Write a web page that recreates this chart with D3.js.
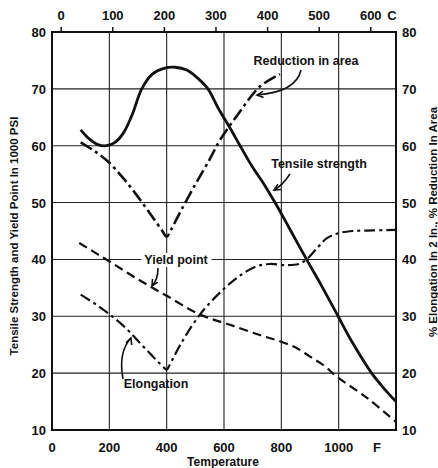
<!DOCTYPE html>
<html><head><meta charset="utf-8">
<script src="https://cdn.jsdelivr.net/npm/d3@7"></script>
<style>
body{margin:0;background:#fff;}
svg text{font-family:"Liberation Sans",Arial,sans-serif;font-weight:bold;fill:#111;}
</style></head><body>
<svg id="c" width="438" height="468"></svg>
<script>
// ---- data (temperature in F, value) ----
const tensileF   = [100,130,160,190,220,250,280,313,350,390,430,470,510,544,580,620,656,700,740,778,830,888,940,998,1050,1115,1160,1200];
const tensileV   = [62.8,61.2,60.2,60.0,60.6,62.3,65.5,70.0,72.6,73.6,73.8,73.3,71.8,70.0,66.6,63.2,60.0,56.2,53.2,50.0,45.3,40.0,35.4,30.0,25.2,20.0,17.2,15.0];
const reductionF = [100,150,200,250,300,350,385,400,415,450,500,550,586,650,725,795];
const reductionV = [60.6,59.0,57.0,54.2,51.0,47.5,45.0,44.0,45.2,48.6,53.2,57.6,61.0,65.6,70.4,72.6];
const yieldF     = [95,150,202,300,400,516,621,725,795,850,900,950,993,1100,1200];
const yieldV     = [42.9,41.2,39.6,36.5,33.6,30.3,28.5,26.7,25.6,24.5,22.9,21.3,19.4,15.6,11.4];
const elongF     = [100,150,202,260,307,360,390,400,410,450,516,597,660,714,760,818,860,888,925,958,998,1050,1120,1200];
const elongV     = [33.8,32.2,30.3,27.8,25.3,22.5,21.0,20.6,21.4,25.2,30.3,34.7,37.3,38.8,39.2,39.0,39.2,40.0,42.0,43.7,44.6,45.0,45.1,45.2];
const fTicks     = [0,200,400,600,800,1000];
const cTicks     = [0,100,200,300,400,500,600];
const yTicks     = [10,20,30,40,50,60,70,80];

const svg = d3.select("#c");
const x = d3.scaleLinear().domain([0,1200]).range([52,396]);
const y = d3.scaleLinear().domain([10,80]).range([430,32]);
const cToF = c => c*9/5+32;

// grid
const g = svg.append("g");
g.selectAll(".hg").data(yTicks.slice(1,-1)).join("line")
  .attr("x1",x(0)).attr("x2",x(1200)).attr("y1",d=>y(d)).attr("y2",d=>y(d))
  .attr("stroke","#222").attr("stroke-width",1.1);
g.selectAll(".vg").data(fTicks.slice(1)).join("line")
  .attr("x1",d=>x(d)).attr("x2",d=>x(d)).attr("y1",y(80)).attr("y2",y(10))
  .attr("stroke","#222").attr("stroke-width",1.1);

// frame
svg.append("rect").attr("x",x(0)).attr("y",y(80)).attr("width",x(1200)-x(0)).attr("height",y(10)-y(80))
  .attr("fill","none").attr("stroke","#111").attr("stroke-width",2);

// top C ticks
svg.selectAll(".ct").data(cTicks).join("line")
  .attr("x1",d=>x(cToF(d))).attr("x2",d=>x(cToF(d))).attr("y1",y(80)-5).attr("y2",y(80))
  .attr("stroke","#111").attr("stroke-width",1.5);
svg.selectAll(".cl").data(cTicks).join("text")
  .attr("x",d=>x(cToF(d))).attr("y",20).attr("text-anchor","middle").attr("font-size",13).text(d=>d);
svg.append("text").attr("x",392).attr("y",20).attr("text-anchor","middle").attr("font-size",13).text("C");

// bottom F labels
svg.selectAll(".fl").data(fTicks).join("text")
  .attr("x",d=>x(d)).attr("y",452).attr("text-anchor","middle").attr("font-size",13).text(d=>d);
svg.append("text").attr("x",377).attr("y",452).attr("text-anchor","middle").attr("font-size",13).text("F");
svg.append("text").attr("x",223).attr("y",466).attr("text-anchor","middle").attr("font-size",12).text("Temperature");

// left / right y labels
svg.selectAll(".yl").data(yTicks).join("text")
  .attr("x",46).attr("y",d=>y(d)+5).attr("text-anchor","end").attr("font-size",13).text(d=>d);
svg.selectAll(".yr").data(yTicks).join("text")
  .attr("x",402).attr("y",d=>y(d)+5).attr("text-anchor","start").attr("font-size",13).text(d=>d);

svg.append("text").attr("transform","translate(18,236) rotate(-90)").attr("text-anchor","middle")
  .attr("font-size",11.5).text("Tensile Strength and Yield Point In 1000 PSI");
svg.append("text").attr("transform","translate(437,222) rotate(-90)").attr("text-anchor","middle")
  .attr("font-size",11.5).text("% Elongation In 2 In., % Reduction In Area");

// curves
const line = d3.line().x(d=>x(d[0])).y(d=>y(d[1])).curve(d3.curveCatmullRom.alpha(0.5));
const zip = (a,b) => a.map((v,i)=>[v,b[i]]);
svg.append("path").attr("d",line(zip(yieldF,yieldV))).attr("fill","none")
  .attr("stroke","#111").attr("stroke-width",2.2).attr("stroke-dasharray","9,5");
svg.append("path").attr("d",line(zip(elongF,elongV))).attr("fill","none")
  .attr("stroke","#111").attr("stroke-width",2.2).attr("stroke-dasharray","11,4,3,4");
svg.append("path").attr("d",line(zip(reductionF,reductionV))).attr("fill","none")
  .attr("stroke","#111").attr("stroke-width",2.6).attr("stroke-dasharray","13,4,3,4");
svg.append("path").attr("d",line(zip(tensileF,tensileV))).attr("fill","none")
  .attr("stroke","#111").attr("stroke-width",2.8);

// annotations
function label(txt, cx, cy, size, bg){
  const t = svg.append("text").attr("x",cx).attr("y",cy+4).attr("text-anchor","middle").attr("font-size",size).text(txt);
  if(bg){
    const b = t.node().getBBox();
    svg.insert("rect", () => t.node()).attr("x",b.x-3).attr("y",b.y).attr("width",b.width+6).attr("height",b.height).attr("fill","#fff");
  }
}
label("Reduction in area", 306, 61, 12.5, false);
label("Tensile strength", 319, 164, 12.5, false);
label("Yield point", 176, 260, 12.5, true);
label("Elongation", 156, 384, 12.5, false);

function arrow(d, hx, hy, ang){
  svg.append("path").attr("d",d).attr("fill","none").attr("stroke","#111").attr("stroke-width",1.6);
  const a = ang*Math.PI/180, L=7, s=0.45;
  svg.append("path").attr("d",`M${hx+L*Math.cos(a+s)},${hy+L*Math.sin(a+s)} L${hx},${hy} L${hx+L*Math.cos(a-s)},${hy+L*Math.sin(a-s)}`)
    .attr("fill","none").attr("stroke","#111").attr("stroke-width",1.6);
}
arrow("M301,70 Q296,92 257,95", 257, 95, -5);
arrow("M290,174 Q282,186 274,190", 274, 190, -30);
arrow("M158,268 Q158,280 152,286", 152, 286, -60);
arrow("M123,379 Q118,352 131,338", 131, 338, 110);
</script>
</body></html>
